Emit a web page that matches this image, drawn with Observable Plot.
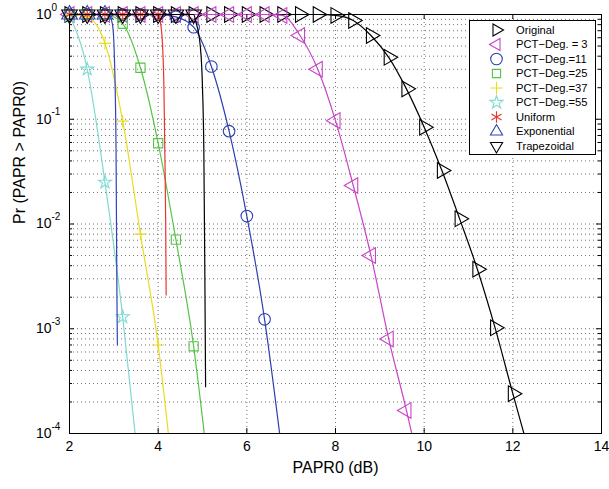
<!DOCTYPE html>
<html><head><meta charset="utf-8">
<script src="https://cdn.jsdelivr.net/npm/d3@7"></script>
<script src="https://cdn.jsdelivr.net/npm/@observablehq/plot@0.6"></script>
<style>
body{margin:0;background:#fff;}
#wrap{position:relative;width:609px;height:489px;font-family:"Liberation Sans",Arial,Helvetica,sans-serif;}
#legend{position:absolute;left:469px;top:20px;}
</style></head><body><div id="wrap"></div>
<script>
// ---- data ----
const seriesNames = ["Original","PCT\u2212Deg. = 3","PCT\u2212Deg.=11","PCT\u2212Deg.=25","PCT\u2212Deg.=37","PCT\u2212Deg.=55","Uniform","Exponential","Trapezoidal"];

const origMarkX = [2,2.4,2.8,3.2,3.6,4,4.4,4.8,5.2,5.6,6,6.4,6.8,7.2,7.6,8,8.4,8.8,9.2,9.6,10,10.4,10.8,11.2,11.6,12];
const origMarkY = [1,1,1,1,1,1,1,1,1,1,1,1,1,1,1,0.98,0.877,0.63,0.39,0.195,0.084,0.0324,0.0112,0.0037,0.00102,0.00024];
const origTailX = [12.25], origTailY = [0.0001];

const deg3MarkX = [2,2.4,2.8,3.2,3.6,4,4.4,4.8,5.2,5.6,6,6.4,6.8,7.2,7.6,8,8.4,8.8,9.2,9.6];
const deg3MarkY = [1,1,1,1,1,1,1,1,1,1,1,1,0.98,0.63,0.30,0.097,0.0233,0.005,0.0008,0.000166];
const deg3TailX = [9.72], deg3TailY = [0.0001];

const deg11MarkX = [2,2.4,2.8,3.2,3.6,4,4.4,4.8,5.2,5.6,6,6.4];
const deg11MarkY = [1,1,1,1,1,1,0.95,0.757,0.319,0.077,0.0119,0.00123];
const deg11TailX = [6.74], deg11TailY = [0.0001];

const deg25MarkX = [2,2.4,2.8,3.2,3.6,4,4.4,4.8];
const deg25MarkY = [1,1,1,0.815,0.31,0.059,0.0071,0.00068];
const deg25TailX = [5.04], deg25TailY = [0.0001];

const deg37MarkX = [2,2.4,2.8,3.2,3.6,4];
const deg37MarkY = [1,0.95,0.53,0.096,0.008,0.0007];
const deg37TailX = [4.23], deg37TailY = [0.0001];

const deg55MarkX = [2,2.4,2.8,3.2];
const deg55MarkY = [0.98,0.30,0.025,0.0013];
const deg55TailX = [3.48], deg55TailY = [0.0001];

const uniMarkX = [2,2.4,2.8,3.2,3.6,4];
const uniMarkY = [1,1,1,1,1,1];
const uniTailX = [4.05,4.1,4.13,4.15,4.17,4.18];
const uniTailY = [0.85,0.5,0.2,0.05,0.01,0.0021];

const expMarkX = [2,2.4,2.8];
const expMarkY = [1,1,1];
const expTailX = [2.9,2.97,3.0,3.03,3.05,3.06,3.07,3.08];
const expTailY = [0.97,0.8,0.55,0.2,0.05,0.01,0.002,0.0007];

const trapMarkX = [2,2.4,2.8,3.2,3.6,4,4.4,4.8];
const trapMarkY = [1,1,1,1,1,1,1,1];
const trapTailX = [4.85,4.95,5.0,5.03,5.05,5.07];
const trapTailY = [0.85,0.5,0.2,0.05,0.005,0.00028];

const xTicks = [2,4,6,8,10,12,14];
const yTicks = [1e-4,1e-3,1e-2,1e-1,1];

// ---- styles ----
const styles = [
  {color:"#000000", symbol:"triangle", rotate:90,  r:5.8},
  {color:"#c844c8", symbol:"triangle", rotate:-90, r:5.8},
  {color:"#2b3fae", symbol:"circle",   rotate:0,   r:5.8},
  {color:"#55c545", symbol:"square",   rotate:0,   r:5.2},
  {color:"#e8dc1e", symbol:"plus",     rotate:0,   r:4},
  {color:"#7fdad2", symbol:"star",     rotate:0,   r:4.1},
  {color:"#e8352e", symbol:"asterisk", rotate:0,   r:5.5},
  {color:"#2f45b5", symbol:"triangle", rotate:0,   r:5.8},
  {color:"#000000", symbol:"triangle", rotate:180, r:5.8}
];
const raw = [
  [origMarkX, origMarkY, origTailX, origTailY],
  [deg3MarkX, deg3MarkY, deg3TailX, deg3TailY],
  [deg11MarkX, deg11MarkY, deg11TailX, deg11TailY],
  [deg25MarkX, deg25MarkY, deg25TailX, deg25TailY],
  [deg37MarkX, deg37MarkY, deg37TailX, deg37TailY],
  [deg55MarkX, deg55MarkY, deg55TailX, deg55TailY],
  [uniMarkX, uniMarkY, uniTailX, uniTailY],
  [expMarkX, expMarkY, expTailX, expTailY],
  [trapMarkX, trapMarkY, trapTailX, trapTailY]
];

const dataMarks = [];
raw.forEach(([mx,my,tx,ty], i) => {
  const st = styles[i];
  const marks = mx.map((x,j)=>({x, y:my[j]}));
  const line = marks.concat(tx.map((x,j)=>({x, y:ty[j]}))).sort((a,b)=>a.x-b.x);
  dataMarks.push(Plot.line(line, {x:"x", y:"y", stroke:st.color, strokeWidth:1.2, curve:"monotone-x", clip:true}));
  dataMarks.push(Plot.dot(marks, {x:"x", y:"y", symbol:st.symbol, r:st.r, rotate:st.rotate, stroke:st.color, fill:"none", strokeWidth:1.1}));
});

const yGrid = [];
for (let e=-4; e<0; e++) for (let m=1; m<10; m++) { const v = m*Math.pow(10,e); if (v>1e-4) yGrid.push(v); }
const xGrid = xTicks.slice(1,-1);
const yMinor = yGrid.filter(v => !yTicks.includes(v) && Math.abs(Math.log10(v)%1)>1e-9);

const W = 609, H = 489, mL = 69, mR = 8, mT = 14, mB = 56;
const fw = W-mL-mR, fh = H-mT-mB;

const chart = Plot.plot({
  width: W, height: H, marginLeft: mL, marginRight: mR, marginTop: mT, marginBottom: mB,
  x: {domain:[2,14], axis:null},
  y: {type:"log", domain:[1e-4,1], axis:null},
  style: {fontFamily:'"Liberation Sans",Arial,Helvetica,sans-serif', fontSize:"14px", background:"white", overflow:"visible", color:"#000"},
  marks: [
    Plot.ruleY(yGrid, {stroke:"#000", strokeOpacity:0.55, strokeDasharray:"1,3"}),
    Plot.ruleX(xGrid, {stroke:"#000", strokeOpacity:0.55, strokeDasharray:"1,3"}),
    Plot.frame({stroke:"#000", strokeWidth:1}),
    ...dataMarks,
    // inward ticks
    Plot.ruleX(xTicks, {stroke:"#000", insetTop: fh-5}),
    Plot.ruleX(xTicks, {stroke:"#000", insetBottom: fh-5}),
    Plot.ruleY(yTicks, {stroke:"#000", insetRight: fw-5}),
    Plot.ruleY(yTicks, {stroke:"#000", insetLeft: fw-5}),
    Plot.ruleY(yMinor, {stroke:"#000", insetRight: fw-3}),
    Plot.ruleY(yMinor, {stroke:"#000", insetLeft: fw-3}),
    // tick labels
    Plot.text(xTicks, {x:d=>d, frameAnchor:"bottom", dy:17, text:d=>String(d), fontSize:14, fill:"#000"}),
    Plot.text(yTicks, {y:d=>d, frameAnchor:"left", dx:-18, textAnchor:"end", text:()=>"10", fontSize:14, fill:"#000"}),
    Plot.text(yTicks, {y:d=>d, frameAnchor:"left", dx:-18, dy:-7, textAnchor:"start", text:d=>String(Math.round(Math.log10(d))), fontSize:10, fill:"#000"}),
    // axis titles
    Plot.text(["PAPR0 (dB)"], {frameAnchor:"bottom", dy:39, text:d=>d, fontSize:16, fill:"#000"}),
    Plot.text(["Pr (PAPR > PAPR0)"], {frameAnchor:"left", dx:-50, rotate:-90, text:d=>d, fontSize:16, fill:"#000"})
  ]
});
const wrap = document.getElementById("wrap");
wrap.appendChild(chart);

// ---- legend (inside the axes, top-right) ----
const symMap = {triangle:d3.symbolTriangle2, circle:d3.symbolCircle, square:d3.symbolSquare2, plus:d3.symbolPlus, star:d3.symbolStar, asterisk:d3.symbolAsterisk};
const lw = 126, lh = 134;
const leg = d3.create("svg").attr("id","legend").attr("width",lw+1).attr("height",lh+1);
leg.append("rect").attr("x",0.5).attr("y",0.5).attr("width",lw).attr("height",lh).attr("fill","white").attr("stroke","#000");
seriesNames.forEach((name,i)=>{
  const st = styles[i];
  const cy = 10 + i*14.5;
  leg.append("path").attr("d", d3.symbol(symMap[st.symbol], Math.PI*st.r*st.r)())
    .attr("transform",`translate(27.5,${cy}) rotate(${st.rotate})`)
    .attr("fill","none").attr("stroke",st.color).attr("stroke-width",1.1);
  leg.append("text").attr("x",47).attr("y",cy).attr("dy","0.35em")
    .attr("font-size",11.2).attr("font-family",'"Liberation Sans",Arial,sans-serif').attr("fill","#000").text(name);
});
wrap.appendChild(leg.node());
</script></body></html>
